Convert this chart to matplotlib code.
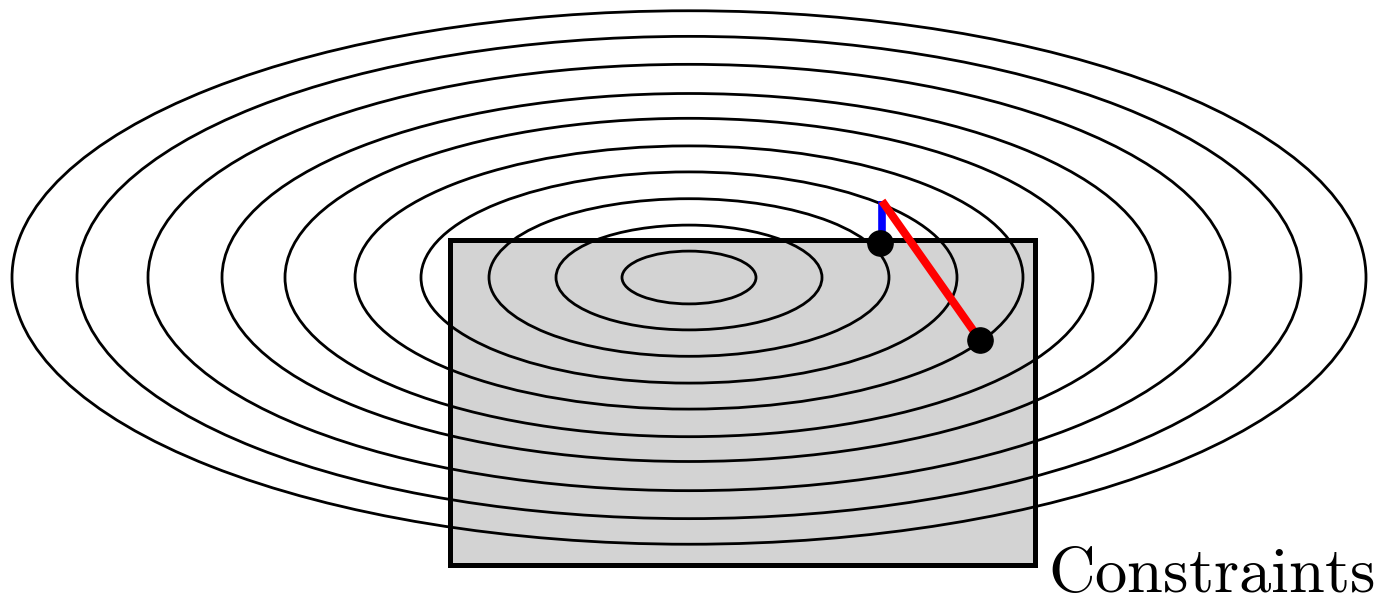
import matplotlib
matplotlib.use("Agg")
import matplotlib.pyplot as plt
from matplotlib.patches import Ellipse, Rectangle

plt.rcParams['mathtext.fontset'] = 'cm'

# --- dados (coordenadas em pixels da figura) ---
centro = (689, 277.5)
semi_eixos_x = [677, 612, 541, 467, 404, 334, 268, 200, 133, 67]
razao_y = 0.394

retangulo_x = [450, 1035]
retangulo_y = [240, 565]

ponto_a = (880, 243)       # ponto na fronteira
ponto_b = (980, 340)       # ponto interior
ponto_topo = (882, 201)    # passo sem restrição

rotulo = "Constraints"

fig = plt.figure(figsize=(13.84, 6), dpi=100)
ax = fig.add_axes([0, 0, 1, 1])
ax.set_xlim(0, 1384)
ax.set_ylim(600, 0)
ax.axis('off')

# região viável (preenchimento)
ax.add_patch(Rectangle((retangulo_x[0], retangulo_y[0]),
                       retangulo_x[1] - retangulo_x[0],
                       retangulo_y[1] - retangulo_y[0],
                       facecolor='#d3d3d3', edgecolor='none', zorder=1))

# curvas de nível
for a in semi_eixos_x:
    ax.add_patch(Ellipse(centro, 2 * a, 2 * a * razao_y, fill=False,
                         edgecolor='black', linewidth=2.0, zorder=2))

# borda da região
ax.add_patch(Rectangle((retangulo_x[0], retangulo_y[0]),
                       retangulo_x[1] - retangulo_x[0],
                       retangulo_y[1] - retangulo_y[0],
                       facecolor='none', edgecolor='black', linewidth=3.6,
                       joinstyle='miter', zorder=3))

# passos
ax.plot([ponto_a[0] + 2, ponto_topo[0]], [ponto_a[1], ponto_topo[1]],
        color='blue', linewidth=5.5, solid_capstyle='butt', zorder=4)
ax.plot([ponto_topo[0], ponto_b[0]], [ponto_topo[1], ponto_b[1]],
        color='red', linewidth=5.8, solid_capstyle='butt', zorder=5)

ax.scatter([ponto_a[0], ponto_b[0]], [ponto_a[1], ponto_b[1]],
           s=330, color='black', zorder=6)

ax.text(1048, 592, r'$\mathrm{' + rotulo + '}$', fontsize=46.5,
        ha='left', va='baseline', zorder=7)

fig.savefig('out.png', dpi=100)
